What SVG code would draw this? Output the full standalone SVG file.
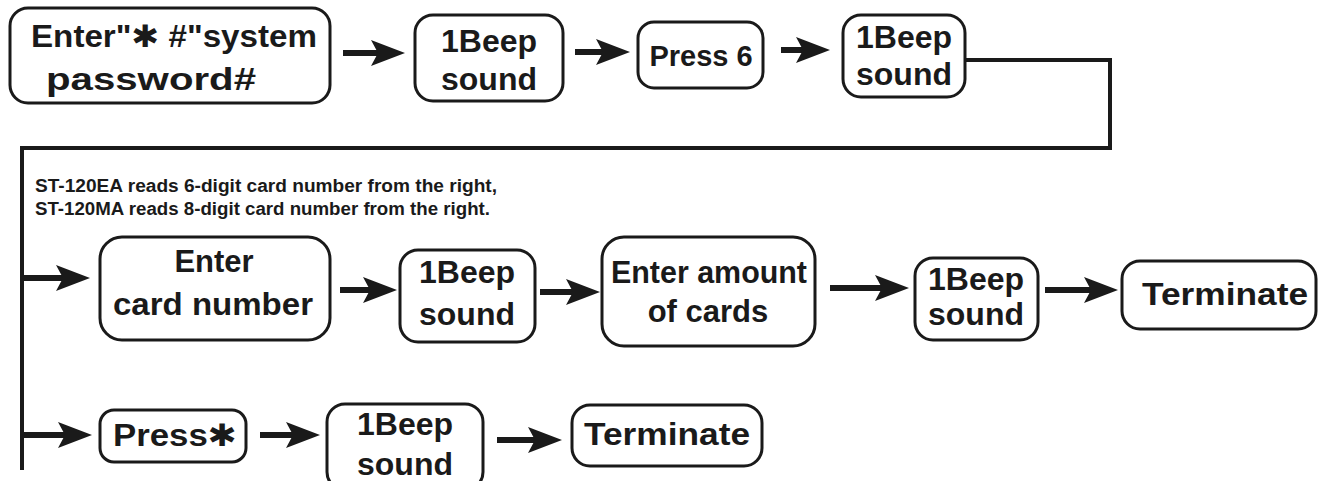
<svg xmlns="http://www.w3.org/2000/svg" width="1323" height="481" viewBox="0 0 1323 481">
<defs>
<style>
.box{fill:#fff;stroke:#1a1a1a;stroke-width:3}
.t{font-family:"Liberation Sans",Arial,"DejaVu Sans",sans-serif;font-weight:bold;fill:#1a1a1a;text-anchor:middle;font-size:31px}
.b{font-size:32px}
.note{font-family:"Liberation Sans",Arial,sans-serif;font-weight:bold;fill:#1a1a1a;font-size:18px}
.arr{stroke:#1a1a1a;stroke-width:6;fill:none;marker-end:url(#ah)}
.ln{stroke:#1a1a1a;stroke-width:4;fill:none}
</style>
<marker id="ah" markerUnits="userSpaceOnUse" markerWidth="34" markerHeight="28" refX="18" refY="14" orient="auto">
<path d="M0,1 L34,14 L0,27 L7,14 Z" fill="#1a1a1a"/>
</marker>
</defs>

<g id="connectors">
<line class="arr" x1="343" y1="53" x2="389" y2="53"/>
<line class="arr" x1="575" y1="52" x2="614" y2="52"/>
<line class="arr" x1="781" y1="50" x2="814" y2="50"/>
<polyline class="ln" points="965,60 1110,60 1110,148 22,148 22,470"/>
<line class="arr" x1="22" y1="278" x2="74" y2="278"/>
<line class="arr" x1="340" y1="290" x2="381" y2="290"/>
<line class="arr" x1="540" y1="292" x2="584" y2="292"/>
<line class="arr" x1="830" y1="288" x2="893" y2="288"/>
<line class="arr" x1="1045" y1="290" x2="1102" y2="290"/>
<line class="arr" x1="22" y1="435" x2="76" y2="435"/>
<line class="arr" x1="260" y1="435" x2="304" y2="435"/>
<line class="arr" x1="497" y1="440" x2="546" y2="440"/>
</g>

<g id="n1">
<rect class="box" x="10" y="8" width="320" height="95" rx="18"/>
<text class="t" x="174" y="47" textLength="286" lengthAdjust="spacingAndGlyphs">Enter"✱ #"system</text>
<text class="t" x="151" y="90" textLength="210" lengthAdjust="spacingAndGlyphs">password#</text>
</g>
<g id="n2">
<rect class="box" x="415" y="15" width="148" height="86" rx="18"/>
<text class="t b" x="489" y="52">1Beep</text>
<text class="t b" x="489" y="90">sound</text>
</g>
<g id="n3">
<rect class="box" x="638" y="22" width="125" height="66" rx="16"/>
<text class="t" x="701" y="66" style="font-size:29px">Press 6</text>
</g>
<g id="n4">
<rect class="box" x="843" y="15" width="122" height="82" rx="18"/>
<text class="t b" x="904" y="48">1Beep</text>
<text class="t b" x="904" y="85">sound</text>
</g>

<g id="note">
<text class="note" x="35" y="192" textLength="462" lengthAdjust="spacingAndGlyphs">ST-120EA reads 6-digit card number from the right,</text>
<text class="note" x="35" y="215" textLength="455" lengthAdjust="spacingAndGlyphs">ST-120MA reads 8-digit card number from the right.</text>
</g>

<g id="n5">
<rect class="box" x="100" y="237" width="230" height="103" rx="22"/>
<text class="t" x="214" y="272">Enter</text>
<text class="t" x="213" y="315" textLength="200" lengthAdjust="spacingAndGlyphs">card number</text>
</g>
<g id="n6">
<rect class="box" x="400" y="250" width="135" height="92" rx="18"/>
<text class="t b" x="467" y="283">1Beep</text>
<text class="t b" x="467" y="325">sound</text>
</g>
<g id="n7">
<rect class="box" x="602" y="237" width="213" height="109" rx="22"/>
<text class="t" x="709" y="283" textLength="196" lengthAdjust="spacingAndGlyphs">Enter amount</text>
<text class="t" x="708" y="322">of cards</text>
</g>
<g id="n8">
<rect class="box" x="915" y="258" width="123" height="82" rx="18"/>
<text class="t b" x="976" y="290">1Beep</text>
<text class="t b" x="976" y="325">sound</text>
</g>
<g id="n9">
<rect class="box" x="1122" y="261" width="194" height="68" rx="18"/>
<text class="t" x="1225" y="305" textLength="166" lengthAdjust="spacingAndGlyphs">Terminate</text>
</g>

<g id="n10">
<rect class="box" x="100" y="410" width="146" height="52" rx="14"/>
<text class="t" x="175" y="446" textLength="124" lengthAdjust="spacingAndGlyphs">Press✱</text>
</g>
<g id="n11">
<rect class="box" x="327" y="404" width="156" height="86" rx="18"/>
<text class="t b" x="405" y="435">1Beep</text>
<text class="t b" x="405" y="475">sound</text>
</g>
<g id="n12">
<rect class="box" x="572" y="405" width="190" height="61" rx="18"/>
<text class="t" x="667" y="445" textLength="166" lengthAdjust="spacingAndGlyphs">Terminate</text>
</g>
</svg>
